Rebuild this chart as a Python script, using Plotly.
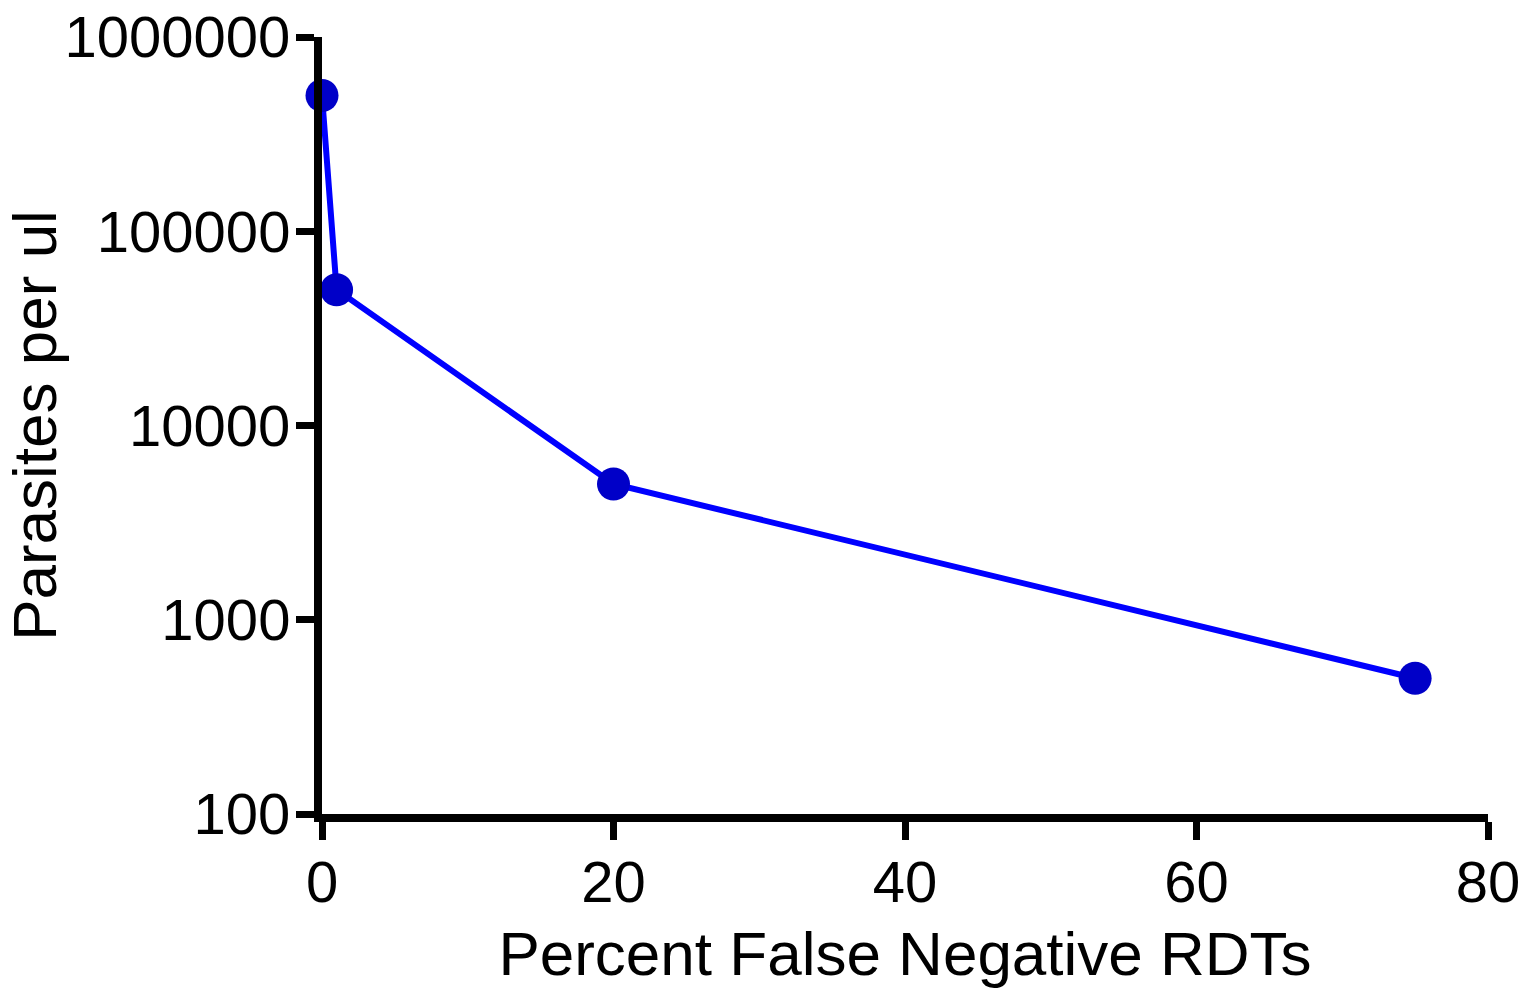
import plotly.graph_objects as go

percent_false_negative = [0, 1, 20, 75]
parasites_per_ul = [500000, 50000, 5000, 500]

x_ticks = [0, 20, 40, 60, 80]
y_ticks = [100, 1000, 10000, 100000, 1000000]
y_tick_labels = ["100", "1000", "10000", "100000", "1000000"]

fig = go.Figure()
fig.add_trace(go.Scatter(
    x=percent_false_negative,
    y=parasites_per_ul,
    mode="lines+markers",
    line=dict(color="#0000FF", width=6),
    marker=dict(color="#0000C8", size=33),
    cliponaxis=False,
    showlegend=False,
))

font_family = "Arial, Liberation Sans, sans-serif"
fig.update_layout(
    width=1522,
    height=991,
    margin=dict(l=322, r=34, t=37, b=177),
    paper_bgcolor="white",
    plot_bgcolor="white",
    font=dict(family=font_family, color="black"),
    xaxis=dict(
        range=[0, 80],
        tickvals=x_ticks,
        ticktext=[str(v) for v in x_ticks],
        showgrid=False,
        zeroline=False,
        showline=True,
        linecolor="black",
        linewidth=8,
        ticks="outside",
        ticklen=18,
        tickwidth=7,
        tickcolor="black",
        automargin=False,
        ticklabelstandoff=-8,
        tickfont=dict(size=58, family=font_family, color="black"),
        title=dict(text="Percent False Negative RDTs", font=dict(size=62, family=font_family, color="black"), standoff=22),
    ),
    yaxis=dict(
        type="log",
        range=[2, 6],
        tickvals=y_ticks,
        ticktext=y_tick_labels,
        showgrid=False,
        zeroline=False,
        showline=True,
        linecolor="black",
        linewidth=8,
        ticks="outside",
        ticklen=18,
        tickwidth=7,
        tickcolor="black",
        automargin=False,
        ticklabelstandoff=-6,
        tickfont=dict(size=58, family=font_family, color="black"),
        title=dict(text="Parasites per ul", font=dict(size=62, family=font_family, color="black"), standoff=24),
    ),
)

fig.write_html("out.html")
